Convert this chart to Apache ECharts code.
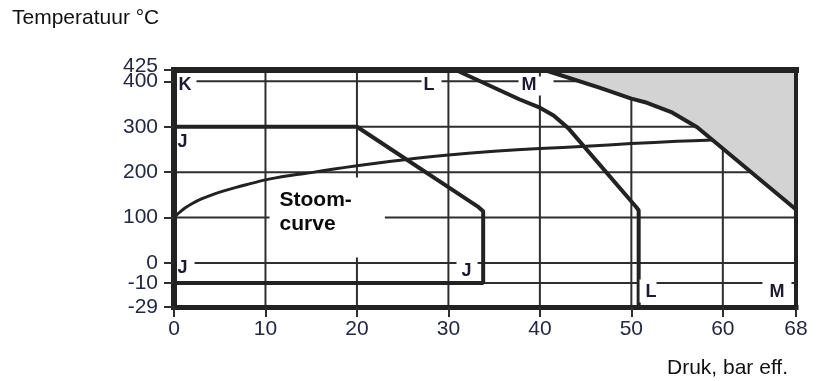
<!DOCTYPE html>
<html><head><meta charset="utf-8">
<script src="https://cdn.jsdelivr.net/npm/echarts@6/dist/echarts.min.js"></script>
<style>html,body{margin:0;padding:0;background:#fff}#c{width:818px;height:381px}</style>
</head><body><div id="c"></div>
<script>
// ---- data ----
const xTicks = [0, 10, 20, 30, 40, 50, 60, 68];
const yTicks = [400, 300, 200, 100, 0, -10, -29];
const yTopTick = [425];
const xGridValues = [10, 20, 30, 40, 50, 60];
const yGridValues = [400, 300, 200, 100, 0, -10];
// [pressure bar, temperature °C]
const curveJ = [[0, 300], [20, 300], [33.3, 123], [33.8, 114], [33.8, -10], [0, -10]];
const curveL = [[30.8, 425], [37.8, 360], [40, 342], [41.5, 325], [43.1, 297], [50.5, 124], [50.8, 116], [50.8, -29]];
const curveM = [[40.5, 425], [46.5, 386], [50, 362], [51.5, 354], [54.5, 331], [57.2, 299], [68, 118]];
const steamCurve = [[0, 100], [0.3, 106], [0.7, 113], [1.2, 121], [2, 131], [3, 141], [4, 149], [5, 156], [6.5, 165],
  [8, 173], [10, 183], [12.5, 192], [15, 199], [17.5, 207], [20, 214], [22.5, 221], [25, 227], [27.5, 233], [30, 238],
  [35, 246], [40, 252], [45, 257], [50, 263], [55, 268], [58.9, 271]];
const steamLabel = 'Stoom-\ncurve';
const classLabels = ['K', 'L', 'M', 'J', 'J', 'J', 'L', 'M'];
const yTitle = 'Temperatuur °C';
const xTitle = 'Druk, bar eff.';

// ---- piecewise temperature scale of the original (below 0 is stretched) ----
function yScale(t) {
  if (t >= 0) return t;
  if (t >= -10) return t * 4.4;
  return -44 + (t + 10) * 2.784;
}
const tr = arr => arr.map(p => [p[0], yScale(p[1])]);
const FONT = '"Liberation Sans", Arial, Helvetica, sans-serif';
const LINE = '#222222';
const X_MIN = 0, X_MAX = 68, Y_MIN = yScale(-29), Y_MAX = 425;

const series = [];
// grid lines
xGridValues.forEach(x => series.push({
  type: 'line', silent: true, symbol: 'none', z: 1, animation: false,
  data: [[x, Y_MIN], [x, Y_MAX]], lineStyle: { color: '#2e2e2e', width: 2 }
}));
yGridValues.forEach(t => series.push({
  type: 'line', silent: true, symbol: 'none', z: 1, animation: false,
  data: [[X_MIN, yScale(t)], [X_MAX, yScale(t)]], lineStyle: { color: '#2e2e2e', width: 2 }
}));
// Stoom-curve label box (white background covers grid)
series.push({
  type: 'scatter', z: 2, silent: true, animation: false, symbolSize: 1,
  itemStyle: { color: 'rgba(0,0,0,0)', opacity: 1 },
  data: [[10.5, 187.2]],
  label: {
    show: true, position: [0, 0], align: 'left', verticalAlign: 'top',
    formatter: steamLabel, fontFamily: FONT, fontSize: 21, fontWeight: 'bold', lineHeight: 24,
    color: '#0a0a0a', backgroundColor: '#fff', padding: [11, 33, 21, 10]
  }
});
// grey area above M curve
series.push({
  type: 'line', z: 3, symbol: 'none', animation: false, data: tr(curveM),
  lineStyle: { color: LINE, width: 4 },
  areaStyle: { color: '#d3d3d3', opacity: 1, origin: 'end' }
});
series.push({ type: 'line', z: 4, symbol: 'none', animation: false, data: tr(curveJ), lineStyle: { color: LINE, width: 4 } });
series.push({ type: 'line', z: 4, symbol: 'none', animation: false, data: tr(curveL), lineStyle: { color: LINE, width: 4 } });
series.push({
  type: 'line', z: 4, symbol: 'none', animation: false, data: tr(steamCurve),
  smooth: 0.25, lineStyle: { color: LINE, width: 3 }
});
// class letters (anchor = top-left of the text box, in data units)
const annotations = [
  { x: 0.22, v: 409.6, pad: [0, 5, 1, 3], bg: true },
  { x: 27.11, v: 409.6, pad: [0, 7, 1, 2], bg: true },
  { x: 37.72, v: 409.6, pad: [0, 17, 1, 3], bg: true },
  { x: 0.44, v: 284.1, pad: [0, 0, 0, 0], bg: false },
  { x: 0.22, v: 11.0, pad: [2, 7, 0, 2], bg: true },
  { x: 30.94, v: 6.6, pad: [3, 6, 0, 5], bg: true },
  { x: 50.95, v: -37.4, pad: [4, 0, 1, 6], bg: true },
  { x: 64.39, v: -37.4, pad: [4, 7, 1, 7], bg: true }
];
annotations.forEach((a, i) => series.push({
  type: 'scatter', z: 6, silent: true, animation: false, symbolSize: 1,
  itemStyle: { color: 'rgba(0,0,0,0)', opacity: 1 },
  data: [[a.x, a.v]],
  label: {
    show: true, position: [0, 0], align: 'left', verticalAlign: 'top',
    formatter: classLabels[i], fontFamily: FONT, fontSize: 18, fontWeight: 'bold', lineHeight: 18,
    color: '#1c1a30', backgroundColor: a.bg ? '#fff' : 'transparent', padding: a.pad
  }
}));

const yTickVals = yTicks.map(yScale);
const labelOf = (ticks, vals) => v => {
  for (let i = 0; i < ticks.length; i++) if (Math.abs(vals[i] - v) < 1e-6) return String(ticks[i]);
  return '';
};
const axisLabelStyle = { fontFamily: FONT, fontSize: 21, color: '#232842', hideOverlap: false };
const tickStyle = { color: '#2e2e2e', width: 2 };
const option = {
  animation: false,
  backgroundColor: '#fff',
  title: [
    { text: yTitle, left: 12, top: 8, padding: 0, textStyle: { fontFamily: FONT, fontSize: 21, fontWeight: 'normal', color: '#111' } },
    { text: xTitle, right: 30, top: 358, padding: 0, textStyle: { fontFamily: FONT, fontSize: 21, fontWeight: 'normal', color: '#111' } }
  ],
  grid: { left: 174, right: 22, top: 70, bottom: 74, outerBoundsMode: 'none', containLabel: false },
  xAxis: [
    {
      type: 'value', min: X_MIN, max: X_MAX, position: 'bottom', z: 10,
      axisLine: { show: true, onZero: false, lineStyle: { color: LINE, width: 5, cap: 'square' } },
      axisTick: { show: true, customValues: xTicks, length: 10, lineStyle: tickStyle },
      axisLabel: Object.assign({ show: true, customValues: xTicks, margin: 12, showMinLabel: true, showMaxLabel: true }, axisLabelStyle),
      splitLine: { show: false }
    },
    {
      type: 'value', min: X_MIN, max: X_MAX, position: 'top', z: 10,
      axisLine: { show: true, onZero: false, lineStyle: { color: LINE, width: 6, cap: 'square' } },
      axisTick: { show: false }, axisLabel: { show: false }, splitLine: { show: false }
    }
  ],
  yAxis: [
    {
      type: 'value', min: Y_MIN, max: Y_MAX, position: 'left', z: 10,
      axisLine: { show: true, onZero: false, lineStyle: { color: LINE, width: 6, cap: 'square' } },
      axisTick: { show: true, customValues: yTickVals, length: 10, lineStyle: tickStyle },
      axisLabel: Object.assign({
        show: true, customValues: yTickVals, margin: 16, showMinLabel: true, showMaxLabel: true,
        formatter: labelOf(yTicks, yTickVals)
      }, axisLabelStyle),
      splitLine: { show: false }
    },
    {
      type: 'value', min: Y_MIN, max: Y_MAX, position: 'right', z: 10,
      axisLine: { show: true, onZero: false, lineStyle: { color: LINE, width: 4, cap: 'square' } },
      axisTick: { show: false }, axisLabel: { show: false }, splitLine: { show: false }
    },
    {
      type: 'value', min: Y_MIN, max: Y_MAX, position: 'left', offset: 0, z: 10,
      axisLine: { show: false, onZero: false },
      axisTick: { show: true, customValues: yTopTick, length: 10, lineStyle: tickStyle },
      axisLabel: Object.assign({
        show: true, customValues: yTopTick, margin: 16, showMinLabel: true, showMaxLabel: true,
        formatter: v => '{t|' + labelOf(yTopTick, yTopTick)(v) + '}',
        rich: { t: { fontFamily: FONT, fontSize: 21, color: '#232842', padding: [0, 0, 7, 0] } }
      }, axisLabelStyle),
      splitLine: { show: false }
    }
  ],
  series: series
};
const chart = echarts.init(document.getElementById('c'), null, { renderer: 'canvas' });
chart.setOption(option);
</script>
</body></html>
